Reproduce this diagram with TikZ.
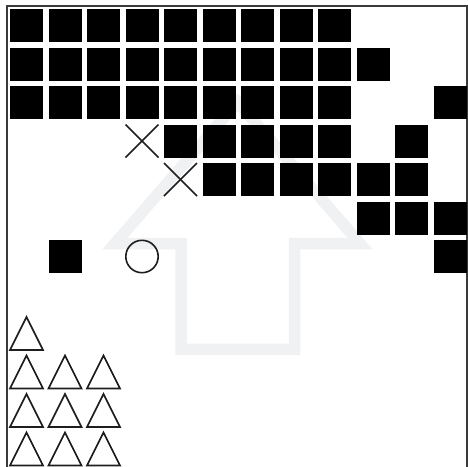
\documentclass[tikz,border=0pt]{standalone}
\definecolor{arrowgray}{RGB}{240,241,243}
\definecolor{framegray}{RGB}{58,58,58}
\definecolor{inkdark}{RGB}{30,30,30}
\begin{document}
\begin{tikzpicture}[x=1pt,y=-1pt,
  arrowline/.style={draw=arrowgray, line width=11.5pt, line join=miter},
  frameline/.style={draw=framegray, line width=2pt},
  blacksq/.style={fill=black},
  outlineshape/.style={draw=inkdark, line width=1.6pt}]
\useasboundingbox (0,0) rectangle (468,466);
% faint big arrow
\draw[arrowline] (237.5,102) -- (360,243.5) -- (294.5,243.5) -- (294.5,349.3)
  -- (181,349.3) -- (181,243.5) -- (115,243.5) -- cycle;
% frame
\draw[frameline] (7,6) rectangle (466.5,490);
% squares
\foreach \r/\c in {0/0,0/1,0/2,0/3,0/4,0/5,0/6,0/7,0/8,
  1/0,1/1,1/2,1/3,1/4,1/5,1/6,1/7,1/8,1/9,
  2/0,2/1,2/2,2/3,2/4,2/5,2/6,2/7,2/8,2/11,
  3/4,3/5,3/6,3/7,3/8,3/10,
  4/5,4/6,4/7,4/8,4/9,4/10,
  5/9,5/10,5/11,
  6/1,6/11}
  \fill[blacksq] ({10+38.5*\c},{9+38.5*\r}) rectangle ++(33,33);
% crosses
\foreach \r/\c in {3/3,4/4}{
  \draw[outlineshape] ({10+38.5*\c},{9+38.5*\r}) -- ++(33,33);
  \draw[outlineshape] ({43+38.5*\c},{9+38.5*\r}) -- ++(-33,33);
}
% circle
\draw[outlineshape] ({26.5+38.5*3},{25.5+38.5*6}) circle[radius=16.2];
% triangles
\foreach \r/\c in {8/0,9/0,9/1,9/2,10/0,10/1,10/2,11/0,11/1,11/2}
  \draw[outlineshape, line join=miter] ({10+38.5*\c},{42+38.5*\r}) -- ++(33,0)
    -- ++(-16.5,-33) -- cycle;
\end{tikzpicture}
\end{document}
